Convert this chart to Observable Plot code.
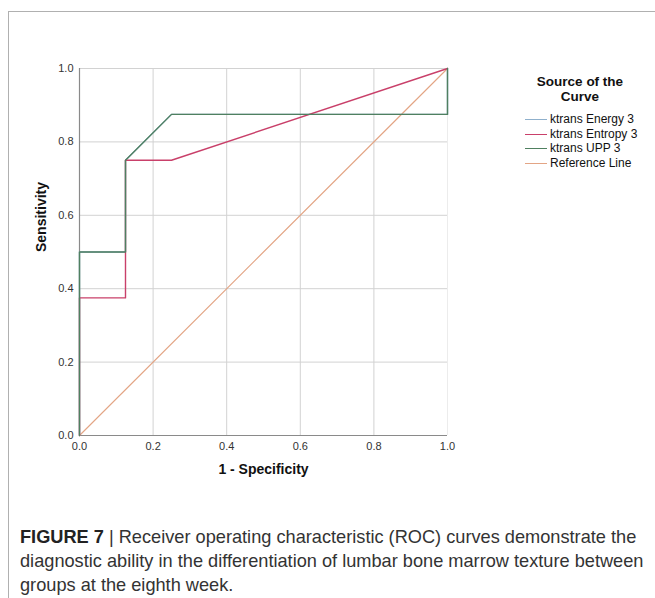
<!DOCTYPE html>
<html>
<head>
<meta charset="utf-8">
<script src="https://cdn.jsdelivr.net/npm/d3@7"></script>
<script src="https://cdn.jsdelivr.net/npm/@observablehq/plot@0.6"></script>
<style>
  html, body { margin: 0; padding: 0; background: #fff; }
  #wrap { position: relative; width: 655px; height: 598px; overflow: hidden; font-family: "Liberation Sans", Arial, sans-serif; }
  #frame { position: absolute; left: 8px; top: 11px; width: 700px; height: 700px; border-top: 1.5px solid #b0b0b0; border-left: 1.5px solid #b0b0b0; }
  #chart { position: absolute; left: 0; top: 0; }
  #legend { position: absolute; left: 500px; top: 74px; width: 155px; color: #111; }
  #legend .title { width: 160px; text-align: center; font-weight: bold; font-size: 13.5px; line-height: 15px; }
  #legend .items { margin-top: 8px; }
  #legend .row { position: relative; height: 14.7px; line-height: 14.7px; font-size: 12px; padding-left: 50px; white-space: nowrap; }
  #legend .sw { position: absolute; left: 25px; top: 7px; width: 22px; height: 0; border-top: 1.5px solid; }
  #caption { position: absolute; left: 20px; top: 525px; font-size: 18.2px; line-height: 24px; color: #333; white-space: nowrap; }
  #caption b { color: #222; }
</style>
</head>
<body>
<div id="wrap">
  <div id="frame"></div>
  <div id="chart"></div>
  <div id="legend"></div>
  <div id="caption"></div>
</div>
<script>
// ---- data ----
const seriesNames = ["ktrans Energy 3", "ktrans Entropy 3", "ktrans UPP 3", "Reference Line"];
const seriesColors = ["#8fb0cc", "#c9406a", "#4f8060", "#e3a585"];

const energyFPR = [0, 0, 0.125, 0.125, 0.25, 1, 1];
const energyTPR = [0, 0.5, 0.5, 0.75, 0.875, 0.875, 1];
const entropyFPR = [0, 0, 0.125, 0.125, 0.25, 1];
const entropyTPR = [0, 0.375, 0.375, 0.75, 0.75, 1];
const uppFPR = [0, 0, 0.125, 0.125, 0.25, 1, 1];
const uppTPR = [0, 0.5, 0.5, 0.75, 0.875, 0.875, 1];
const refFPR = [0, 1];
const refTPR = [0, 1];

const xTicks = [0, 0.2, 0.4, 0.6, 0.8, 1.0];
const yTicks = [0, 0.2, 0.4, 0.6, 0.8, 1.0];
const xLabel = "1 - Specificity";
const yLabel = "Sensitivity";
const legendTitle = ["Source of the", "Curve"];
const captionBold = "FIGURE 7";
const captionLines = [
  " | Receiver operating characteristic (ROC) curves demonstrate the",
  "diagnostic ability in the differentiation of lumbar bone marrow texture between",
  "groups at the eighth week."
];

const toPts = (xs, ys) => xs.map((x, i) => ({x, y: ys[i]}));
const energy = toPts(energyFPR, energyTPR);
const entropy = toPts(entropyFPR, entropyTPR);
const upp = toPts(uppFPR, uppTPR);
const ref = toPts(refFPR, refTPR);
const fmt = d3.format(".1f");

const plot = Plot.plot({
  width: 655,
  height: 500,
  marginLeft: 79,
  marginRight: 208,
  marginTop: 68,
  marginBottom: 65,
  style: {fontFamily: "Liberation Sans, Arial, sans-serif", background: "transparent"},
  x: {domain: [0, 1]},
  y: {domain: [0, 1]},
  marks: [
    Plot.gridX(xTicks.filter(d => d > 0 && d < 1), {stroke: "#d2d2d2", strokeOpacity: 1}),
    Plot.gridX([1], {stroke: "#ececec", strokeOpacity: 1}),
    Plot.gridY(yTicks.filter(d => d > 0), {stroke: "#d2d2d2", strokeOpacity: 1}),
    Plot.ruleX([0], {stroke: "#8a8a8a", strokeWidth: 1.2}),
    Plot.ruleY([0], {stroke: "#8a8a8a", strokeWidth: 1.2}),
    Plot.axisX({ticks: xTicks, tickFormat: fmt, tickSize: 0, tickPadding: 7, fontSize: 11, fill: "#333", label: null}),
    Plot.axisY({ticks: yTicks, tickFormat: fmt, tickSize: 0, tickPadding: 6, fontSize: 11, fill: "#333", label: null}),
    Plot.line(ref, {x: "x", y: "y", stroke: seriesColors[3], strokeWidth: 1.2}),
    Plot.line(energy, {x: "x", y: "y", stroke: seriesColors[0], strokeWidth: 1.4}),
    Plot.line(entropy, {x: "x", y: "y", stroke: seriesColors[1], strokeWidth: 1.4}),
    Plot.line(upp, {x: "x", y: "y", stroke: seriesColors[2], strokeWidth: 1.4}),
    Plot.text([xLabel], {text: d => d, frameAnchor: "bottom", dy: 38, fontWeight: "bold", fontSize: 14, fill: "#111"}),
    Plot.text([yLabel], {text: d => d, frameAnchor: "left", dx: -38, rotate: -90, fontWeight: "bold", fontSize: 14, fill: "#111"})
  ]
});
document.getElementById("chart").appendChild(plot);

// legend
const lg = document.getElementById("legend");
lg.innerHTML = `<div class="title">${legendTitle.join("<br>")}</div><div class="items">` +
  seriesNames.map((n, i) => `<div class="row"><span class="sw" style="border-color:${seriesColors[i]}"></span>${n}</div>`).join("") +
  `</div>`;

// caption
document.getElementById("caption").innerHTML =
  `<b>${captionBold}</b>${captionLines[0]}<br>${captionLines[1]}<br>${captionLines[2]}`;
</script>
</body>
</html>
